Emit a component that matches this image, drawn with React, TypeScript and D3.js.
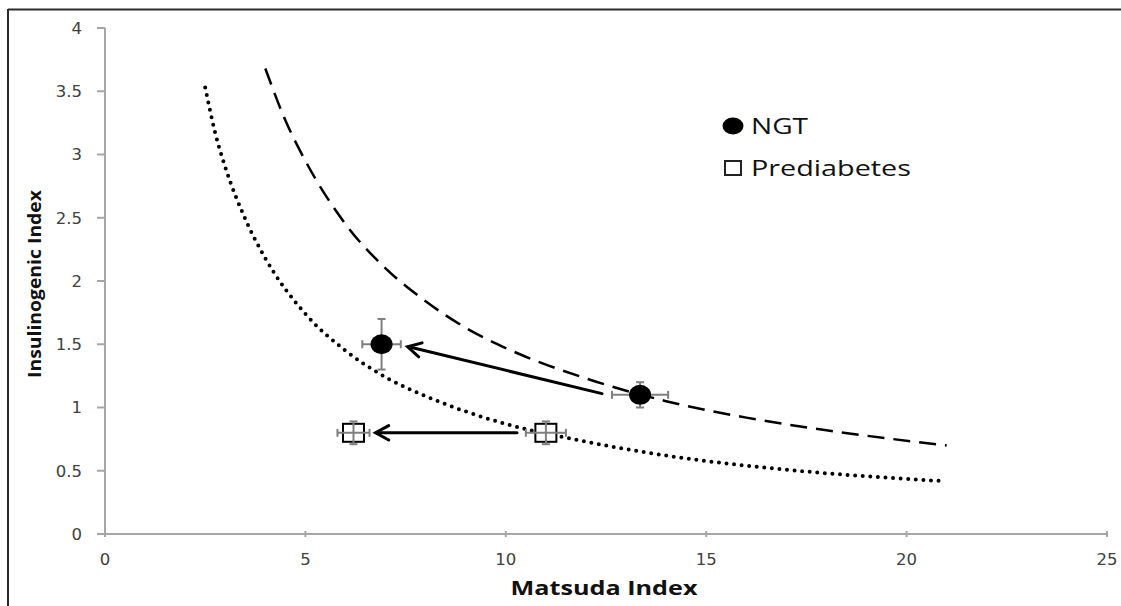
import React from "react";
import * as d3 from "d3";

const xTicks = [0, 5, 10, 15, 20, 25];
const yTicks = [0, 0.5, 1, 1.5, 2, 2.5, 3, 3.5, 4];

// group points: [x, y, xErr, yErrUp, yErrDown]
const ngtPoints = [
  { x: 13.35, y: 1.1, ex: 0.7, eyUp: 0.1, eyDown: 0.1 },
  { x: 6.9, y: 1.5, ex: 0.48, eyUp: 0.2, eyDown: 0.2 },
];
const prePoints = [
  { x: 11.0, y: 0.8, ex: 0.5, eyUp: 0.09, eyDown: 0.09 },
  { x: 6.2, y: 0.8, ex: 0.4, eyUp: 0.09, eyDown: 0.09 },
];

// arrows: from -> to
const arrows = [
  { x1: 12.4, y1: 1.11, x2: 7.55, y2: 1.48 },
  { x1: 10.28, y1: 0.8, x2: 6.75, y2: 0.8 },
];

// curves
const dashedCurve: [number, number][] = [
  [4.0, 3.68], [4.5, 3.27], [5, 2.95], [6, 2.45], [7, 2.1], [8, 1.84], [9, 1.63],
  [10, 1.47], [12, 1.23], [14, 1.05], [16, 0.92], [18, 0.82], [21, 0.7],
];
const dottedCurve: [number, number][] = [
  [2.5, 3.53], [2.75, 3.17], [3, 2.9], [3.5, 2.49], [4, 2.18], [5, 1.74], [6, 1.45], [7, 1.24],
  [8, 1.09], [10, 0.87], [12, 0.73], [14, 0.62], [16, 0.54], [18, 0.48], [20.8, 0.42],
];

const legendItems = ["NGT", "Prediabetes"];

export default function App() {
  const W = 1121, H = 606;
  const x = d3.scaleLinear().domain([0, 25]).range([105, 1107]);
  const y = d3.scaleLinear().domain([0, 4]).range([534, 28]);
  const line = d3.line<[number, number]>().x(d => x(d[0])).y(d => y(d[1])).curve(d3.curveMonotoneX);
  const axisColor = "#a6a6a6";
  const errColor = "#7f7f7f";
  const tickFont = "'DejaVu Sans', sans-serif";

  const errBars = (p: any, i: number, key: string) => {
    const cx = x(p.x), cy = y(p.y);
    const x0 = x(p.x - p.ex), x1 = x(p.x + p.ex);
    const yt = y(p.y + p.eyUp), yb = y(p.y - p.eyDown);
    return (
      <g key={key + i} stroke={errColor} strokeWidth={2}>
        <line x1={x0} x2={x1} y1={cy} y2={cy} />
        <line x1={x0} x2={x0} y1={cy - 4} y2={cy + 4} />
        <line x1={x1} x2={x1} y1={cy - 4} y2={cy + 4} />
        <line x1={cx} x2={cx} y1={yt} y2={yb} />
        <line x1={cx - 4} x2={cx + 4} y1={yt} y2={yt} />
        <line x1={cx - 4} x2={cx + 4} y1={yb} y2={yb} />
      </g>
    );
  };

  const arrowHead = (a: any, i: number) => {
    const X1 = x(a.x1), Y1 = y(a.y1), X2 = x(a.x2), Y2 = y(a.y2);
    const ang = Math.atan2(Y1 - Y2, X1 - X2);
    const L = 15, spread = 0.5;
    const p1 = [X2 + L * Math.cos(ang + spread), Y2 + L * Math.sin(ang + spread)];
    const p2 = [X2 + L * Math.cos(ang - spread), Y2 + L * Math.sin(ang - spread)];
    return (
      <g key={"arr" + i} stroke="#000" strokeWidth={3} fill="none" strokeLinecap="round" strokeLinejoin="miter">
        <line x1={X1} y1={Y1} x2={X2 + 1} y2={Y2} />
        <polyline points={`${p1[0]},${p1[1]} ${X2},${Y2} ${p2[0]},${p2[1]}`} />
      </g>
    );
  };

  return (
    <svg width={W} height={H} style={{ position: "absolute", left: 0, top: 0, background: "#fff" }}>
      <rect x={0} y={0} width={W} height={H} fill="#fff" />
      {/* frame */}
      <line x1={8} x2={W} y1={9.5} y2={9.5} stroke="#2a2a2a" strokeWidth={2} />
      <line x1={8} x2={8} y1={9} y2={H} stroke="#2a2a2a" strokeWidth={2} />

      {/* axes */}
      <line x1={x(0)} x2={x(25)} y1={y(0)} y2={y(0)} stroke={axisColor} strokeWidth={2} />
      <line x1={x(0)} x2={x(0)} y1={y(0)} y2={y(4)} stroke={axisColor} strokeWidth={2} />
      {yTicks.map(t => (
        <g key={"yt" + t}>
          <line x1={x(0) - 8} x2={x(0)} y1={y(t)} y2={y(t)} stroke={axisColor} strokeWidth={2} />
          <text x={82} y={y(t)} dy="0.36em" textAnchor="end" fontFamily={tickFont} fontSize={16.5} fill="#404040">{t}</text>
        </g>
      ))}
      {xTicks.map(t => (
        <g key={"xt" + t}>
          <line x1={x(t)} x2={x(t)} y1={y(0) - 3} y2={y(0) + 3} stroke={axisColor} strokeWidth={2} />
          <text x={x(t)} y={559} dy="0.36em" textAnchor="middle" fontFamily={tickFont} fontSize={16.5} fill="#404040">{t}</text>
        </g>
      ))}

      {/* axis titles */}
      <text x={604} y={595} textAnchor="middle" fontFamily="'Open Sans', sans-serif" fontWeight="bold" fontSize={19}
        textLength={187} lengthAdjust="spacingAndGlyphs" fill="#111">Matsuda Index</text>
      <text transform="translate(41,284) rotate(-90)" textAnchor="middle" fontFamily="'Open Sans', sans-serif" fontWeight="bold" fontSize={18}
        textLength={188} lengthAdjust="spacingAndGlyphs" fill="#111">Insulinogenic  Index</text>

      {/* curves */}
      <path d={line(dashedCurve) || ""} fill="none" stroke="#000" strokeWidth={2.5} strokeDasharray="17 9" />
      <path d={line(dottedCurve) || ""} fill="none" stroke="#000" strokeWidth={4} strokeDasharray="0 7.6" strokeLinecap="round" />

      {/* arrows */}
      {arrows.map(arrowHead)}

      {/* NGT */}
      {ngtPoints.map((p, i) => (
        <g key={"ngt" + i}>
          {errBars(p, i, "ngte")}
          <ellipse cx={x(p.x)} cy={y(p.y)} rx={11} ry={10} fill="#000" />
        </g>
      ))}
      {/* Prediabetes */}
      {prePoints.map((p, i) => (
        <g key={"pre" + i}>
          <rect x={x(p.x) - 10.5} y={y(p.y) - 9} width={21} height={18} fill="#fff" stroke="#000" strokeWidth={2} />
          {errBars(p, i, "pree")}
        </g>
      ))}

      {/* legend */}
      <ellipse cx={733} cy={126} rx={10.5} ry={8.5} fill="#000" />
      <text x={751} y={134} fontFamily="'Open Sans', sans-serif" fontSize={21} fill="#111" textLength={57} lengthAdjust="spacingAndGlyphs">{legendItems[0]}</text>
      <rect x={725} y={161} width={16} height={14} fill="#fff" stroke="#222" strokeWidth={2} />
      <text x={751} y={176} fontFamily="'Open Sans', sans-serif" fontSize={21} fill="#111" textLength={160} lengthAdjust="spacingAndGlyphs">{legendItems[1]}</text>
    </svg>
  );
}
